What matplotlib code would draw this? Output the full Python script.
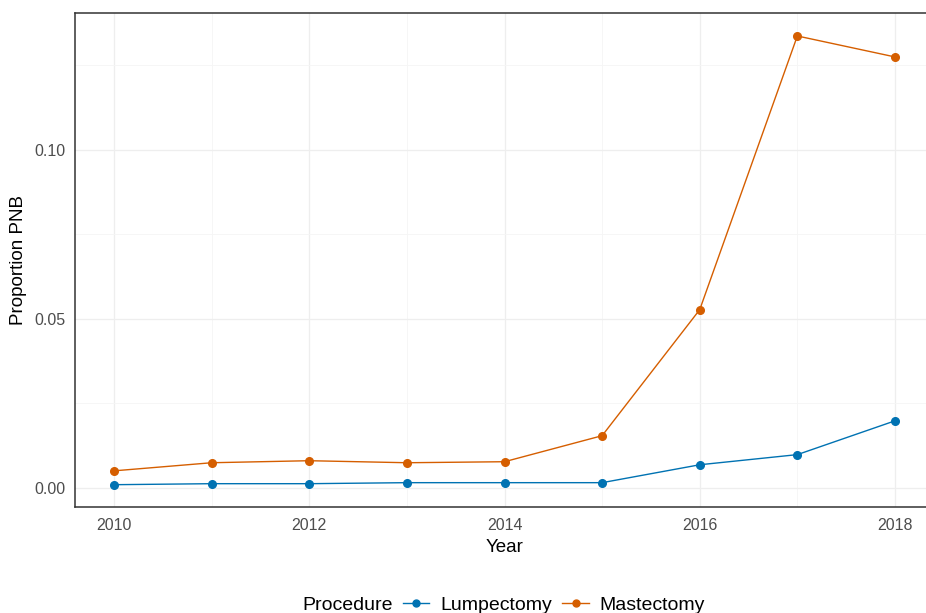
import matplotlib
matplotlib.use("Agg")
import matplotlib.pyplot as plt
from matplotlib.lines import Line2D
from matplotlib.ticker import MultipleLocator

years = [2010, 2011, 2012, 2013, 2014, 2015, 2016, 2017, 2018]
lumpectomy = [0.0009, 0.0012, 0.0012, 0.0015, 0.0015, 0.0015, 0.0068, 0.0098, 0.0198]
mastectomy = [0.0050, 0.0074, 0.0080, 0.0074, 0.0077, 0.0154, 0.0527, 0.1337, 0.1275]
series_names = ["Lumpectomy", "Mastectomy"]
legend_title = "Procedure"
colors = ["#0072B2", "#D55E00"]

plt.rcParams['font.family'] = ['Liberation Sans', 'DejaVu Sans']

fig = plt.figure(figsize=(9.26, 6.13), dpi=100)
ax = fig.add_axes([75/926, (613-507)/613, (934-75)/926, (507-13)/613])

for vals, name, c in zip([lumpectomy, mastectomy], series_names, colors):
    ax.plot(years, vals, color=c, lw=1.0, marker='o', ms=5.5, label=name, zorder=3)

ax.set_xlim(2009.6, 2018.4)
ax.set_ylim(-0.0057, 0.1405)
ax.xaxis.set_major_locator(MultipleLocator(2))
ax.xaxis.set_minor_locator(MultipleLocator(1))
ax.yaxis.set_major_locator(MultipleLocator(0.05))
ax.yaxis.set_minor_locator(MultipleLocator(0.025))
ax.yaxis.set_major_formatter(plt.FuncFormatter(lambda v, p: f"{v:.2f}"))

ax.grid(which='major', color='#EEEEEE', lw=0.9, zorder=0)
ax.grid(which='minor', color='#F5F5F5', lw=0.6, zorder=0)
ax.set_axisbelow(True)

for s in ['left', 'top', 'bottom']:
    ax.spines[s].set_color('#333333')
    ax.spines[s].set_linewidth(1.1)
ax.spines['right'].set_visible(False)

ax.tick_params(which='both', length=0, labelsize=11.5, labelcolor='#4D4D4D')
ax.tick_params(axis='x', pad=8)
ax.tick_params(axis='y', pad=7)
ax.set_xlabel("Year", fontsize=13.5, color='black', labelpad=4)
ax.set_ylabel("Proportion PNB", fontsize=13.5, color='black', labelpad=5)

fig.text(302/926, 1-605/613, legend_title, fontsize=14, ha='left', va='center')
handles = [Line2D([], [], color=c, lw=1.0, marker='o', ms=5) for c in colors]
fig.legend(handles, series_names, loc='center left', bbox_to_anchor=(403/926, 1-605/613),
           ncol=2, frameon=False, fontsize=14, handlelength=1.35,
           columnspacing=0.55, handletextpad=0.55, borderpad=0, borderaxespad=0)

fig.savefig("out.png", dpi=100)
